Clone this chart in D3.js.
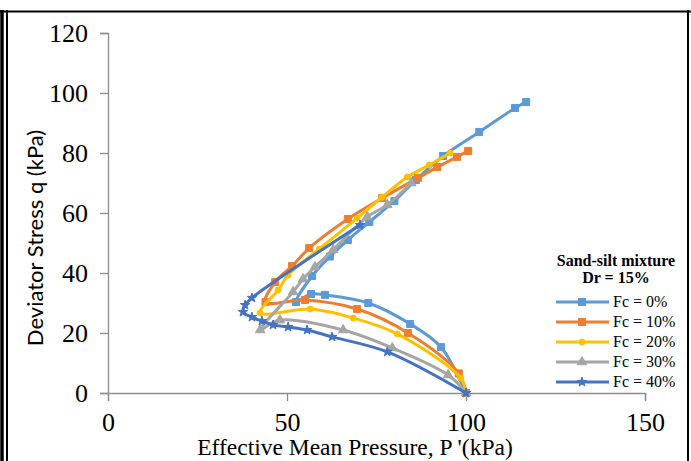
<!DOCTYPE html>
<html lang="en">
<head>
<meta charset="utf-8">
<script src="https://d3js.org/d3.v7.min.js"></script>
<style>
  body { margin: 0; background: #fff; }
  svg { display: block; }
</style>
</head>
<body>
<svg width="691" height="461"></svg>
<script>
// data (p' in kPa, q in kPa)
var seriesNames = ["Fc = 0%", "Fc = 10%", "Fc = 20%", "Fc = 30%", "Fc = 40%"];
var fc0P = [100, 93, 84.4, 72.7, 60.6, 56.7, 52.5, 57, 62, 67, 73, 80, 86, 93.6, 103.7, 113.7, 116.8];
var fc0Q = [0, 15.3, 23, 30, 32.7, 33, 30.3, 39, 45.5, 51, 57, 64, 71, 79, 87, 95, 97];
var fc10P = [100, 98, 83.8, 69.6, 55, 44, 46.7, 51.4, 56.2, 67, 76.6, 86.6, 92, 97.5, 100.6];
var fc10Q = [0, 6.5, 20, 28, 31, 30.3, 37, 42.3, 48.3, 58, 65, 71.7, 75.3, 78.7, 80.7];
var fc20P = [100, 98.5, 80.8, 68.5, 56.5, 42.5, 47.5, 50.3, 59, 69.6, 76.6, 83.6, 89.7, 95.6];
var fc20Q = [0, 5, 19.7, 25, 28, 26.7, 34.3, 39.3, 48, 58.3, 65.3, 72, 76, 80];
var fc30P = [100, 95, 79.4, 65.7, 48, 42.5, 51.7, 54.5, 57.8, 62.9, 72.4, 78, 84.7];
var fc30Q = [0, 6, 15, 21, 24.3, 21, 33.7, 38, 42, 47.7, 58.7, 62.7, 70];
var fc40P = [100, 78, 62.6, 55.6, 50.3, 46.1, 43, 40.2, 37.7, 38.3, 40.2, 70.4];
var fc40Q = [0, 13.7, 18.7, 21, 22, 22.7, 24, 25.3, 27, 29.3, 31.7, 56];
var xTicks = [0, 50, 100, 150];
var yTicks = [0, 20, 40, 60, 80, 100, 120];

var colors = ["#5B9BD5", "#ED7D31", "#FFC000", "#A5A5A5", "#4472C4"];
var symbols = [d3.symbolSquare, d3.symbolSquare, d3.symbolCircle, d3.symbolTriangle, d3.symbolStar];
var symSizes = [50, 50, 28, 40, 28];

var series = [
  {name: seriesNames[0], p: fc0P, q: fc0Q},
  {name: seriesNames[1], p: fc10P, q: fc10Q},
  {name: seriesNames[2], p: fc20P, q: fc20Q},
  {name: seriesNames[3], p: fc30P, q: fc30Q},
  {name: seriesNames[4], p: fc40P, q: fc40Q}
].map(function (s, i) {
  s.points = s.p.map(function (v, j) { return [v, s.q[j]]; });
  s.color = colors[i];
  s.symbol = symbols[i];
  s.size = symSizes[i];
  return s;
});

var svg = d3.select("svg");
var serif = "'Liberation Serif', 'Times New Roman', serif";

// frame around the figure
svg.append("line").attr("x1", 2).attr("x2", 2).attr("y1", 10).attr("y2", 461)
  .attr("stroke", "#000").attr("stroke-width", 3.5);
svg.append("line").attr("x1", 7).attr("x2", 7).attr("y1", 10).attr("y2", 461)
  .attr("stroke", "#000").attr("stroke-width", 2);
svg.append("line").attr("x1", 0).attr("x2", 691).attr("y1", 11.5).attr("y2", 11.5)
  .attr("stroke", "#000").attr("stroke-width", 2);
svg.append("line").attr("x1", 688).attr("x2", 688).attr("y1", 10).attr("y2", 461)
  .attr("stroke", "#000").attr("stroke-width", 2);

var x = d3.scaleLinear().domain([0, 150]).range([108, 645]);
var y = d3.scaleLinear().domain([0, 120]).range([393, 33]);

// axes
var xAxis = svg.append("g")
  .attr("transform", "translate(0," + y(0) + ")")
  .call(d3.axisBottom(x).tickValues(xTicks).tickSize(8).tickPadding(10));
var yAxis = svg.append("g")
  .attr("transform", "translate(" + x(0) + ",0)")
  .call(d3.axisLeft(y).tickValues(yTicks).tickSize(8).tickPadding(12));

[xAxis, yAxis].forEach(function (a) {
  a.select(".domain").attr("stroke", "#8c8c8c").attr("stroke-width", 1.3);
  a.selectAll(".tick line").attr("stroke", "#8c8c8c").attr("stroke-width", 1.3);
  a.selectAll(".tick text").attr("font-family", serif).attr("font-size", 26).attr("fill", "#000");
});
xAxis.selectAll(".tick text").attr("dy", "0.75em");

// axis titles
svg.append("text")
  .attr("x", 355).attr("y", 455)
  .attr("text-anchor", "middle")
  .attr("font-family", serif).attr("font-size", 23.5)
  .text("Effective Mean Pressure, P '(kPa)");
svg.append("text")
  .attr("transform", "translate(43,238) rotate(-90)")
  .attr("text-anchor", "middle")
  .attr("font-family", "Lato, 'Open Sans', sans-serif").attr("font-size", 22)
  .text("Deviator Stress q (kPa)");

// lines and markers
var line = d3.line()
  .x(function (d) { return x(d[0]); })
  .y(function (d) { return y(d[1]); })
  .curve(d3.curveCatmullRom.alpha(0.5));

var g = svg.append("g");
series.forEach(function (s) {
  var sg = g.append("g");
  sg.append("path")
    .attr("d", line(s.points))
    .attr("fill", "none")
    .attr("stroke", s.color)
    .attr("stroke-width", 3)
    .attr("stroke-linejoin", "round");
  sg.selectAll("path.mk")
    .data(s.points)
    .enter()
    .append("path")
    .attr("class", "mk")
    .attr("transform", function (d) { return "translate(" + x(d[0]) + "," + y(d[1]) + ")"; })
    .attr("d", d3.symbol().type(s.symbol).size(s.size))
    .attr("fill", s.color)
    .attr("stroke", s.color)
    .attr("stroke-width", 1);
});

// legend
var legend = svg.append("g");
legend.append("text")
  .attr("x", 616).attr("y", 266)
  .attr("text-anchor", "middle")
  .attr("font-family", serif).attr("font-size", 16).attr("font-weight", "bold")
  .text("Sand-silt mixture");
legend.append("text")
  .attr("x", 616).attr("y", 283)
  .attr("text-anchor", "middle")
  .attr("font-family", serif).attr("font-size", 16).attr("font-weight", "bold")
  .text("Dr = 15%");

series.forEach(function (s, i) {
  var ly = 302 + i * 20;
  legend.append("line")
    .attr("x1", 556).attr("x2", 609).attr("y1", ly).attr("y2", ly)
    .attr("stroke", s.color).attr("stroke-width", 3);
  legend.append("path")
    .attr("transform", "translate(582," + ly + ")")
    .attr("d", d3.symbol().type(s.symbol).size(s.size))
    .attr("fill", s.color).attr("stroke", s.color);
  legend.append("text")
    .attr("x", 613).attr("y", ly + 5)
    .attr("font-family", serif).attr("font-size", 16)
    .text(s.name);
});
</script>
</body>
</html>
